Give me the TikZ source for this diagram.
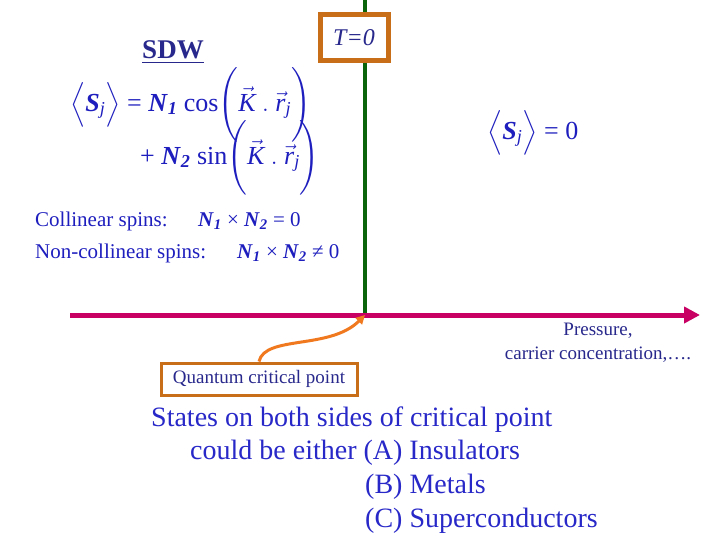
\documentclass[tikz,border=0pt]{standalone}
\usepackage{amsmath}
\usepackage{fontspec}
\setmainfont{Liberation Serif}
\usetikzlibrary{arrows.meta}
\definecolor{dblue}{RGB}{40,40,140}
\definecolor{fblue}{RGB}{30,30,190}
\definecolor{sblue}{RGB}{40,40,200}
\definecolor{orng}{RGB}{200,110,25}
\definecolor{arrorng}{RGB}{240,120,30}
\definecolor{mag}{RGB}{200,0,100}
\definecolor{dgreen}{RGB}{10,100,10}
\tikzset{lbl/.style={inner sep=0pt,anchor=west},
 fm/.style={lbl,text=fblue,font=\fontsize{26}{28}\selectfont}}
\newcommand{\bi}[1]{\textbf{\textit{#1}}}
\begin{document}
\begin{tikzpicture}[x=1pt,y=-1pt]
\useasboundingbox (0,0) rectangle (720,540);
\draw[dgreen,line width=4] (365,0) -- (365,315) coordinate (qcp);
\draw[mag,line width=5,-{Triangle[length=16,width=16]}] (70,315) coordinate (ax0) -- (700,315) coordinate (ax1);
\node[draw=orng,line width=5,fill=white,minimum width=68,minimum height=46,text=dblue,font=\fontsize{24}{26}\selectfont\itshape] (T) at (354,38) {T=0};
\node[text=dblue,font=\fontsize{27}{29}\selectfont\bfseries] (sdw) at (173,52) {\underline{SDW}};
\node[fm] (f1) at (70,105) {$\Bigl\langle\text{\bi{S}}_{\text{\itshape j}}\Bigr\rangle$ = \bi{N}$_{\text{\bi{1}}}$ cos$\Biggl(\vec{\text{\itshape K}}\ .\ \vec{\text{\itshape r}}_{\text{\itshape j}}\Biggr)$};
\node[fm] (f2) at (140,158) {+ \bi{N}$_{\text{\bi{2}}}$ sin$\Biggl(\vec{\text{\itshape K}}\ .\ \vec{\text{\itshape r}}_{\text{\itshape j}}\Biggr)$};
\node[fm] (f3) at (487,133) {$\Bigl\langle\text{\bi{S}}_{\text{\itshape j}}\Bigr\rangle$ = 0};
\node[lbl,text=fblue,font=\fontsize{21}{23}\selectfont] (c1) at (35,221) {Collinear spins:};
\node[lbl,text=fblue,font=\fontsize{21}{23}\selectfont] (c1m) at (198,221) {\bi{N}$_{\text{\bi{1}}}$ × \bi{N}$_{\text{\bi{2}}}$ = 0};
\node[lbl,text=fblue,font=\fontsize{21}{23}\selectfont] (c2) at (35,253) {Non-collinear spins:};
\node[lbl,text=fblue,font=\fontsize{21}{23}\selectfont] (c2m) at (237,253) {\bi{N}$_{\text{\bi{1}}}$ × \bi{N}$_{\text{\bi{2}}}$ ≠ 0};
\node[draw=orng,line width=3,text=dblue,font=\fontsize{19}{21}\selectfont,minimum width=196,minimum height=32] (q) at (259,379) {Quantum critical point};
\draw[arrorng,line width=3,-{Triangle[length=9,width=9]}] (q.north) .. controls (265,335) and (330,350) .. (qcp);
\node[text=dblue,font=\fontsize{19}{24}\selectfont,align=center] (p) at (598,343) {Pressure,\\carrier concentration,….};
\node[lbl,text=sblue,font=\fontsize{28}{30}\selectfont] (s1) at (151,420) {States on both sides of critical point};
\node[lbl,text=sblue,font=\fontsize{28}{30}\selectfont] (s2) at (190,453) {could be either (A) Insulators};
\node[lbl,text=sblue,font=\fontsize{28}{30}\selectfont] (s3) at (365,487) {(B) Metals};
\node[lbl,text=sblue,font=\fontsize{28}{30}\selectfont] (s4) at (365,521) {(C) Superconductors};
\end{tikzpicture}
\end{document}
